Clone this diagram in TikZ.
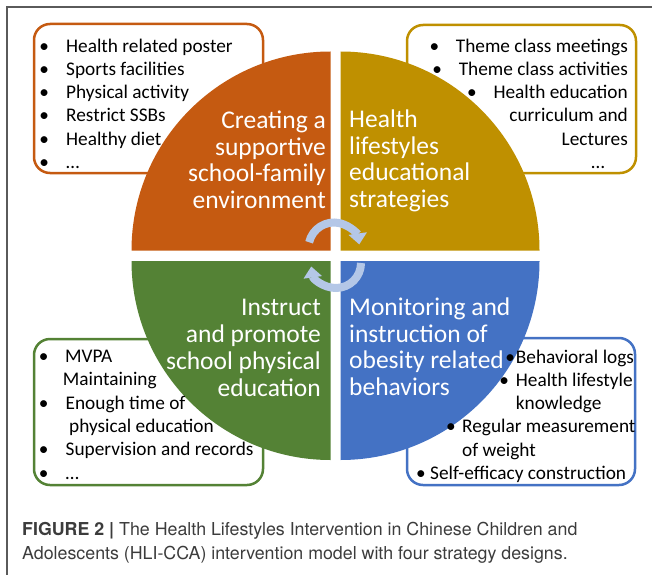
\documentclass[tikz,border=0pt]{standalone}
\usepackage{fontspec}
\setmainfont{Carlito}
\newfontfamily\capfont{TeX Gyre Heros}
\usetikzlibrary{arrows.meta}
\definecolor{envorange}{HTML}{C55A11}
\definecolor{edugold}{HTML}{BF9000}
\definecolor{pegreen}{HTML}{548235}
\definecolor{monblue}{HTML}{4472C4}
\definecolor{cyclebl}{HTML}{B4C7E7}
\definecolor{framegray}{HTML}{5A5A5A}
\definecolor{capgray}{HTML}{3C3C3C}
\newcommand{\bl}[1]{\makebox[0pt]{\textbullet}\hspace*{#1pt}}
\tikzset{listbox/.style={draw=#1,line width=2.5pt,rounded corners=16pt,fill=white,inner sep=0pt},
	 listtext/.style={inner sep=0pt,font=\fontsize{19.3}{23.3}\selectfont},
	 quadtext/.style={inner sep=0pt,text=white,font=\fontsize{25.5}{26.7}\selectfont},
	 cyclearr/.style={draw=cyclebl,line width=8pt,-{Triangle[width=18pt,length=11pt]}}
	 }

\begin{document}
\begin{tikzpicture}[x=1pt,y=-1pt]
      \useasboundingbox (0,0) rectangle (652,575);
      \draw[framegray,line width=1.3pt] (652,7) -- (7,7) -- (7,575);
      % boxes behind the circle
      \node[listbox=envorange,minimum width=229pt,minimum height=149pt] (envbox) at (148.5,98.5) {};
      \node[listbox=edugold,minimum width=229pt,minimum height=148pt] (edubox) at (521.5,99) {};
      \node[listbox=pegreen,minimum width=229pt,minimum height=146pt] (pebox) at (148.5,412) {};
      \node[listbox=monblue,minimum width=228pt,minimum height=147pt] (monbox) at (521,411.5) {};
      % four quarters
      \fill[envorange] (330.5,250.5) -- ++(180:199) arc[start angle=180,end angle=270,radius=199] -- cycle;
      \fill[edugold] (340.5,250.5) -- ++(270:199) arc[start angle=270,end angle=360,radius=199] -- cycle;
      \fill[monblue] (340.5,261) -- ++(0:199) arc[start angle=0,end angle=90,radius=199] -- cycle;
      \fill[pegreen] (330.5,261) -- ++(90:199) arc[start angle=90,end angle=180,radius=199] -- cycle;
      % titles, placed by the baseline of their last line
      \node[quadtext,anchor=base east,align=right] (envtitle) at (326,208.4) {Creating a\\supportive\\school-family\\environment};
      \node[quadtext,anchor=base west,align=left] (edutitle) at (349,207.4) {Health\\lifestyles\\educational\\strategies};
      \node[quadtext,anchor=base east,align=right] (petitle) at (321,396) {Instruct\\and promote\\school physical\\education};
      \node[quadtext,anchor=base west,align=left] (montitle) at (349,395.5) {Monitoring and\\instruction of\\obesity related\\behaviors};
      % lists
      \node[listtext,anchor=base west,align=left] (envlist) at (44,168.5) {\bl{22}Health related poster\\\bl{22}Sports facilities\\\bl{22}Physical activity\\\bl{22}Restrict SSBs\\\bl{22}Healthy diet\\\bl{22}\dots};
      \node[listtext,anchor=base east,align=right] (edulist) at (628,168.5) {\bl{21.5}Theme class meetings\\\bl{21.5}Theme class activities\\\bl{21.5}Health education\\curriculum and\\Lectures\\\dots\hspace*{23pt}};
      \node[listtext,anchor=base west,align=left] (pelist) at (43.5,479) {\bl{21.5}MVPA\\\hspace*{19.2pt}Maintaining\\\bl{22}Enough time of\\\hspace*{25.5pt}physical education\\\bl{22}Supervision and records\\\bl{22}\dots};
      \node[listtext,anchor=base west,align=left] (monlist) at (420,479.5) {\hspace*{90pt}\bl{5.7}Behavioral logs\\\hspace*{84pt}\bl{11.7}Health lifestyle\\\hspace*{95.7pt}knowledge\\\hspace*{30.7pt}\bl{11.3}Regular measurement\\\hspace*{42pt}of weight\\\hspace*{0.7pt}\bl{9.3}Self-efficacy construction};
      % cycle arrows
      \draw[cyclearr] (334,248) ++(193:25.5) arc[start angle=193,end angle=352,radius=25.5];
      \draw[cyclearr] (336,263) ++(0:25) arc[start angle=0,end angle=172,radius=25];
      \node[anchor=base west,inner sep=0pt,align=left,text=capgray,font=\capfont\fontsize{17.8}{23.3}\selectfont] (caption) at (22,559) {\textbf{FIGURE 2 |} The Health Lifestyles Intervention in Chinese Children and\\Adolescents (HLI-CCA) intervention model with four strategy designs.};
  \end{tikzpicture}
\end{document}
